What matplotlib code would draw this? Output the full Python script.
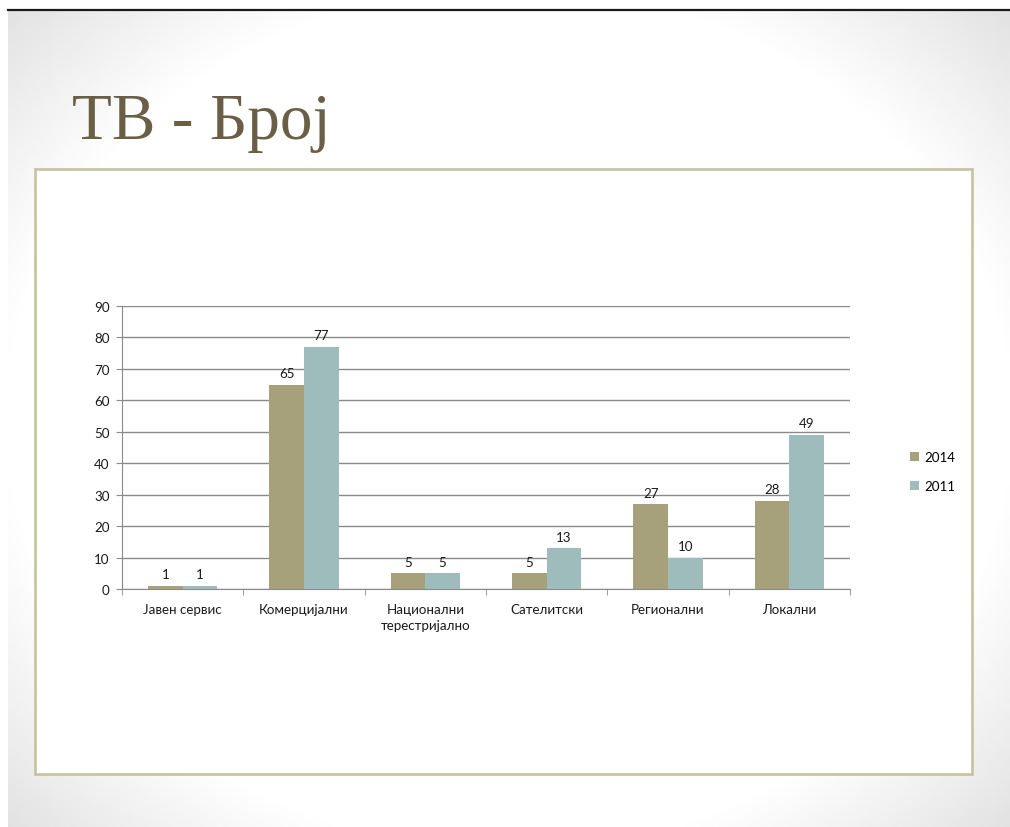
import numpy as np
import matplotlib.pyplot as plt
from matplotlib.patches import Rectangle

categories = ["Јавен сервис", "Комерцијални", "Национални\nтерестријално",
              "Сателитски", "Регионални", "Локални"]
series_names = ["2014", "2011"]
values_2014 = [1, 65, 5, 5, 27, 28]
values_2011 = [1, 77, 5, 13, 10, 49]
yticks = [0, 10, 20, 30, 40, 50, 60, 70, 80, 90]

col_2014 = "#a7a17b"
col_2011 = "#9ebcbb"
W, H = 1010, 828
fs = 9.6

fig = plt.figure(figsize=(W / 100, H / 100), dpi=100)
fig.patch.set_facecolor("white")

# slide background: white in the middle, grey in the corners
bg = fig.add_axes([8 / W, 0, 1 - 8 / W, 1 - 11 / H])
bg.axis("off")
yy, xx = np.mgrid[-1:1:300j, -1:1:300j]
r = np.sqrt(xx ** 2 + (yy * 0.95) ** 2)
shade = np.clip((r - 1.0) / 0.4, 0, 1)
bg.imshow(1 - 0.12 * shade, cmap="gray", vmin=0, vmax=1, aspect="auto",
          extent=[0, 1, 0, 1], interpolation="bilinear")
bg.set_xlim(0, 1)
bg.set_ylim(0, 1)

# chart frame (drawn in the background axes so the chart sits on top)
bg.add_patch(Rectangle((35 / W, 1 - 775 / H), (972 - 35) / W, (775 - 170) / H,
                       facecolor="white", edgecolor="#c9c4a4", lw=2,
                       transform=fig.transFigure, clip_on=False))

# top black line
fig.add_artist(plt.Line2D([8 / W, 1], [1 - 11 / H, 1 - 11 / H],
                          color="#1a1a1a", lw=1.6, transform=fig.transFigure))

fig.text(72 / W, 1 - 139 / H, "ТВ - Број", family="Liberation Serif",
         fontsize=47, color="#6a5f45", va="baseline", ha="left")

ax = fig.add_axes([122 / W, 1 - 590 / H, (850 - 122) / W, (590 - 307) / H])
ax.set_facecolor("none")
x = np.arange(len(categories))
w = 0.2857
b1 = ax.bar(x - w / 2, values_2014, w, color=col_2014, label=series_names[0], zorder=3)
b2 = ax.bar(x + w / 2, values_2011, w, color=col_2011, label=series_names[1], zorder=3)
for bars in (b1, b2):
    ax.bar_label(bars, padding=4, fontsize=fs, family="Lato", color="#1a1a1a")

ax.set_xlim(-0.5, len(categories) - 0.5)
ax.set_ylim(0, 90)
ax.set_yticks(yticks)
ax.yaxis.grid(True, color="#8a8a8a", lw=1, zorder=0)
ax.set_xticks(x)
ax.set_xticklabels(categories, fontsize=fs, family="Lato", color="#1a1a1a",
                   linespacing=1.45)
ax.set_xticks(np.arange(-0.5, len(categories)), minor=True)
ax.tick_params(axis="x", which="major", length=0, pad=10)
ax.tick_params(axis="x", which="minor", length=4, color="#8a8a8a", direction="out")
ax.tick_params(axis="y", length=4, color="#8a8a8a", labelsize=fs, pad=5,
               labelcolor="#1a1a1a")
for lab in ax.get_yticklabels():
    lab.set_family("Lato")
for s in ("top", "right"):
    ax.spines[s].set_visible(False)
for s in ("left", "bottom"):
    ax.spines[s].set_color("#8a8a8a")

leg = ax.legend(loc="center left", bbox_to_anchor=(1.066, 0.415), frameon=False,
                handlelength=0.7, handleheight=0.7, handletextpad=0.4,
                labelspacing=1.25, prop={"family": "Lato", "size": fs})

fig.savefig("out.png", dpi=100)
